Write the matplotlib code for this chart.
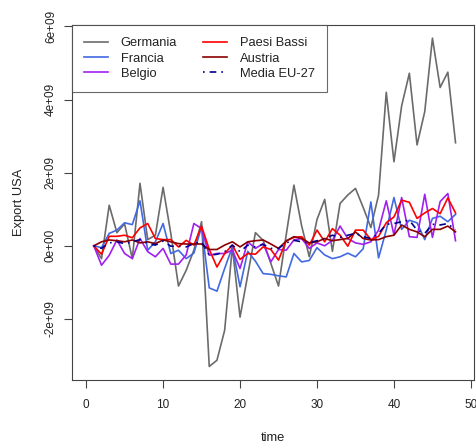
import matplotlib
matplotlib.use("Agg")
import matplotlib.pyplot as plt
import numpy as np

plt.rcParams['font.family'] = ['Liberation Sans', 'DejaVu Sans']

# valori in miliardi (1e9)
time = np.arange(1, 49)
germania = [0, -0.35, 1.11, 0.36, 0.60, -0.35, 1.71, 0.17, 0.29, 1.60, 0.34, -1.10,
            -0.67, -0.12, 0.66, -3.30, -3.13, -2.31, -0.03, -1.95, -0.80, 0.36, 0.15, -0.48,
            -1.10, 0.30, 1.66, 0.55, -0.30, 0.72, 1.27, -0.15, 1.16, 1.39, 1.57, 1.05,
            0.50, 1.39, 4.20, 2.30, 3.83, 4.72, 2.76, 3.67, 5.68, 4.33, 4.75, 2.82]
francia = [0, -0.05, 0.34, 0.43, 0.63, 0.58, 1.23, -0.12, 0.11, 0.61, -0.21, -0.12,
           -0.35, -0.20, 0.52, -1.15, -1.24, -0.62, -0.03, -1.12, -0.15, -0.42, -0.76, -0.78,
           -0.82, -0.85, -0.21, -0.44, -0.40, -0.05, -0.25, -0.35, -0.30, -0.20, -0.30, -0.08,
           1.20, -0.33, 0.43, 1.32, 0.45, 0.70, 0.63, 0.17, 0.75, 0.81, 0.66, 0.86]
belgio = [0, -0.53, -0.26, 0.16, -0.21, -0.35, 0.20, -0.16, -0.30, -0.07, -0.50, -0.50,
          -0.25, 0.61, 0.47, -0.26, -0.21, -0.21, -0.12, -0.62, 0.11, -0.07, 0.06, -0.44,
          -0.10, -0.12, 0.16, 0.20, -0.07, 0.08, 0.00, 0.15, 0.54, 0.20, 0.08, 0.04,
          0.11, 0.43, 1.23, 0.30, 1.32, 0.25, 0.23, 1.41, 0.23, 1.21, 1.43, 0.14]
paesi_bassi = [0, -0.23, 0.26, 0.26, 0.29, 0.22, 0.49, 0.61, 0.20, 0.17, 0.17, -0.03,
               0.15, 0.02, 0.54, -0.10, -0.58, -0.21, 0.02, -0.37, -0.21, -0.23, -0.03, -0.10,
               -0.39, 0.14, 0.23, 0.25, 0.02, 0.43, 0.11, 0.47, 0.29, -0.01, 0.43, 0.43,
               0.17, 0.26, 0.63, 0.79, 1.25, 1.19, 0.75, 0.90, 1.02, 0.88, 1.31, 0.90]
austria = [0, 0.11, 0.16, 0.14, 0.11, 0.16, 0.08, 0.11, 0.06, 0.16, 0.11, 0.06,
           0.05, 0.05, 0.05, -0.10, -0.10, 0.02, 0.11, -0.03, 0.11, 0.14, 0.16, 0.05,
           -0.07, 0.13, 0.25, 0.20, 0.08, 0.11, 0.20, 0.14, 0.17, 0.20, 0.38, 0.20,
           0.16, 0.17, 0.25, 0.29, 0.57, 0.45, 0.38, 0.25, 0.45, 0.45, 0.54, 0.38]
media_eu27 = [0, -0.07, 0.08, 0.11, 0.06, 0.11, 0.17, 0.06, 0.02, 0.13, -0.01, -0.01,
              -0.03, 0.06, 0.11, -0.26, -0.23, -0.16, 0.02, -0.16, 0.02, -0.03, 0.04, -0.07,
              -0.07, 0.08, 0.15, 0.11, 0.08, 0.14, 0.20, 0.29, 0.23, 0.29, 0.34, 0.25,
              0.20, 0.34, 0.59, 0.61, 0.66, 0.70, 0.43, 0.34, 0.59, 0.57, 0.61, 0.43]

yticks = [-2e9, 0, 2e9, 4e9, 6e9]
ytick_labels = ["-2e+09", "0e+00", "2e+09", "4e+09", "6e+09"]
xticks = [0, 10, 20, 30, 40, 50]

fig = plt.figure(figsize=(4.77, 4.48), dpi=100)
ax = fig.add_axes([71.5/477, 1-380/448, (474-71.5)/477, (380-25)/448])

lw = 1.2
ax.plot(time, np.array(germania)*1e9, color="#6b6b6b", lw=lw, label="Germania")
ax.plot(time, np.array(francia)*1e9, color="#4169E1", lw=lw, label="Francia")
ax.plot(time, np.array(belgio)*1e9, color="#A020F0", lw=lw, label="Belgio")
ax.plot(time, np.array(paesi_bassi)*1e9, color="red", lw=lw, label="Paesi Bassi")
ax.plot(time, np.array(austria)*1e9, color="#8B0000", lw=lw, label="Austria")
ax.plot(time, np.array(media_eu27)*1e9, color="#00008B", lw=lw,
        dashes=(1, 3, 4, 3), label="Media EU-27")

ax.set_xlim(-1.9, 50.4)
ax.set_ylim(-3.67e9, 6.04e9)
ax.set_xticks(xticks)
ax.set_yticks(yticks)
ax.set_yticklabels(ytick_labels, rotation=90, va="center")
ax.tick_params(direction="out", length=5.5, width=0.8, color="#444444",
               labelsize=8.5, labelcolor="#222222")
ax.tick_params(axis="x", pad=8)
ax.tick_params(axis="y", pad=5)
for s in ax.spines.values():
    s.set_color("#444444")
    s.set_linewidth(0.8)

ax.set_xlabel("time", fontsize=9.3, color="#222222", labelpad=15)
ax.set_ylabel("Export USA", fontsize=9.3, color="#222222", labelpad=14)

leg = ax.legend(ncol=2, loc="upper left", bbox_to_anchor=(0, 1), borderaxespad=0,
                fontsize=9.3, handlelength=1.9, handletextpad=0.95, columnspacing=2.0,
                labelspacing=0.25, borderpad=0.95, fancybox=False)
leg.get_frame().set_edgecolor("#444444")
leg.get_frame().set_linewidth(0.8)
for t in leg.get_texts():
    t.set_color("#222222")

fig.savefig("out.png", dpi=100)
